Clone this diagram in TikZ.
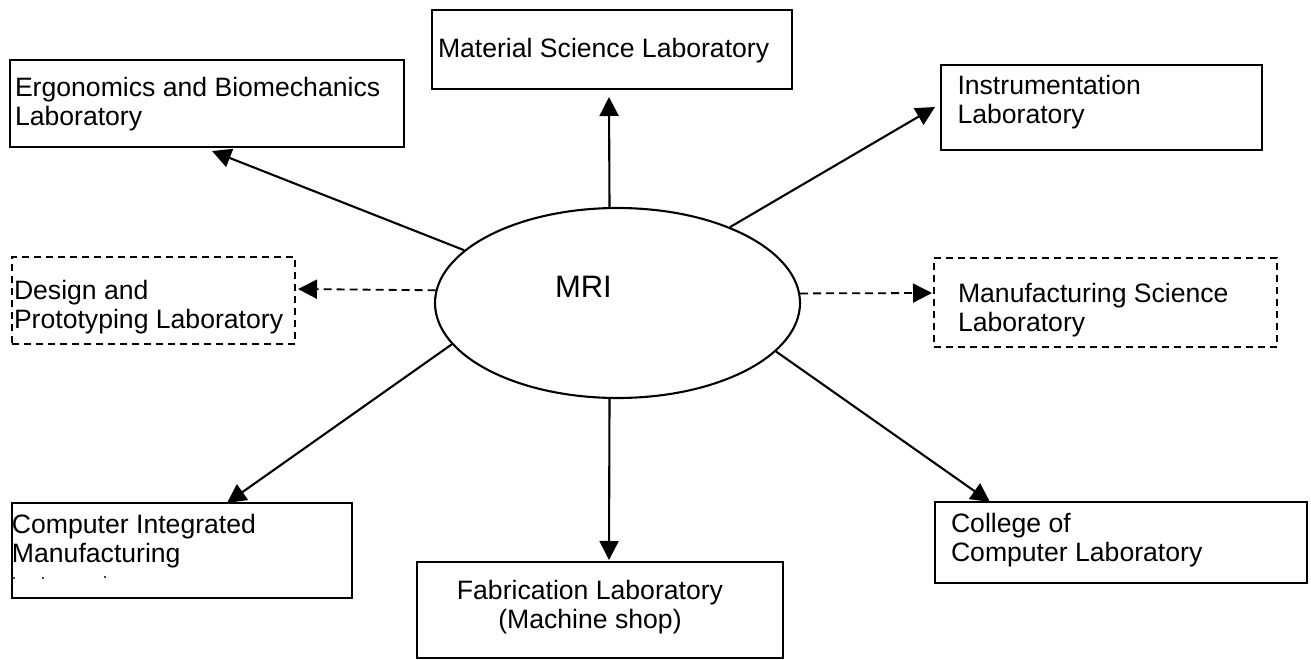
\documentclass[tikz,border=0pt]{standalone}
\usepackage{fontspec}
\setmainfont{Liberation Sans}
\usetikzlibrary{arrows.meta,shapes.geometric}
\begin{document}
\begin{tikzpicture}[x=1pt,y=-1pt,
  box/.style={draw, line width=2.1pt, inner sep=0pt, outer sep=0pt, anchor=north west},
  dbox/.style={box, line width=1.6pt, dash pattern=on 7pt off 5pt},
  lbl/.style={inner sep=0pt, outer sep=0pt, anchor=base west, align=left, font=\fontsize{26.6}{29}\selectfont},
  arr/.style={line width=2.1pt, -{Triangle[length=19pt,width=19pt]}},
  darr/.style={arr, line width=1.8pt, dash pattern=on 8pt off 5pt},
]
\useasboundingbox (0,0) rectangle (1311,660);
% boxes
\node[box, minimum width=394pt, minimum height=87pt] (ergo) at (10,60) {};
\node[box, minimum width=360pt, minimum height=79pt] (mat) at (432,10) {};
\node[box, minimum width=321pt, minimum height=85pt] (instr) at (941,65) {};
\node[dbox, minimum width=283pt, minimum height=87pt] (des) at (12,257) {};
\node[dbox, minimum width=343pt, minimum height=89pt] (manu) at (934,258) {};
\node[box, minimum width=340pt, minimum height=95pt] (cim) at (12,503) {};
\node[box, minimum width=372pt, minimum height=81pt] (col) at (935,502) {};
\node[box, minimum width=366pt, minimum height=96pt] (fab) at (417,562) {};
% central ellipse
\node[draw, ellipse, line width=2.1pt, minimum width=365pt, minimum height=190pt, inner sep=0pt] (mri) at (617.5,303) {};
\node[lbl, font=\fontsize{31}{31}\selectfont] (mriT) at (555,298) {MRI};
% labels (base anchor = baseline of the last line)
\node[lbl] (ergoT) at (15,126) {Ergonomics and Biomechanics\\Laboratory};
\node[lbl] (matT) at (438,58) {Material Science Laboratory};
\node[lbl] (instrT) at (957.5,124) {Instrumentation\\Laboratory};
\node[lbl] (desT) at (14,328) {Design and\\Prototyping Laboratory};
\node[lbl] (manuT) at (958,331) {Manufacturing Science\\Laboratory};
\node[lbl] (cimT) at (12,562) {Computer Integrated\\Manufacturing};
\node[lbl] (colT) at (951,561) {College of\\Computer Laboratory};
\node[lbl, anchor=base, align=center] (fabT) at (590,628) {Fabrication Laboratory\\(Machine shop)};
% clipped remnants of a third line
\fill (14,578) circle (1.2pt);
\fill (43,578) circle (1.2pt);
\fill (105,577) circle (1.2pt);
% connectors
\draw[arr] (mri.161) -- ([xshift=202pt,yshift=-4pt]ergo.south west);
\draw[arr] ([xshift=-8pt]mri.north) -- ([xshift=-3pt,yshift=-8pt]mat.south);
\draw[arr] (mri.34) -- ([xshift=-6pt,yshift=-42pt]instr.north west);
\draw[darr] (mri.176) -- ([xshift=3pt,yshift=-32pt]des.north east);
\draw[darr] (mri.3) -- ([xshift=-2pt,yshift=-35pt]manu.north west);
\draw[arr] (mri.194) -- ([xshift=215pt]cim.north west);
\draw[arr] ([xshift=-8pt]mri.south) -- ([xshift=9pt,yshift=2pt]fab.north);
\draw[arr] (mri.343) -- ([xshift=55pt]col.north west);
\end{tikzpicture}
\end{document}
